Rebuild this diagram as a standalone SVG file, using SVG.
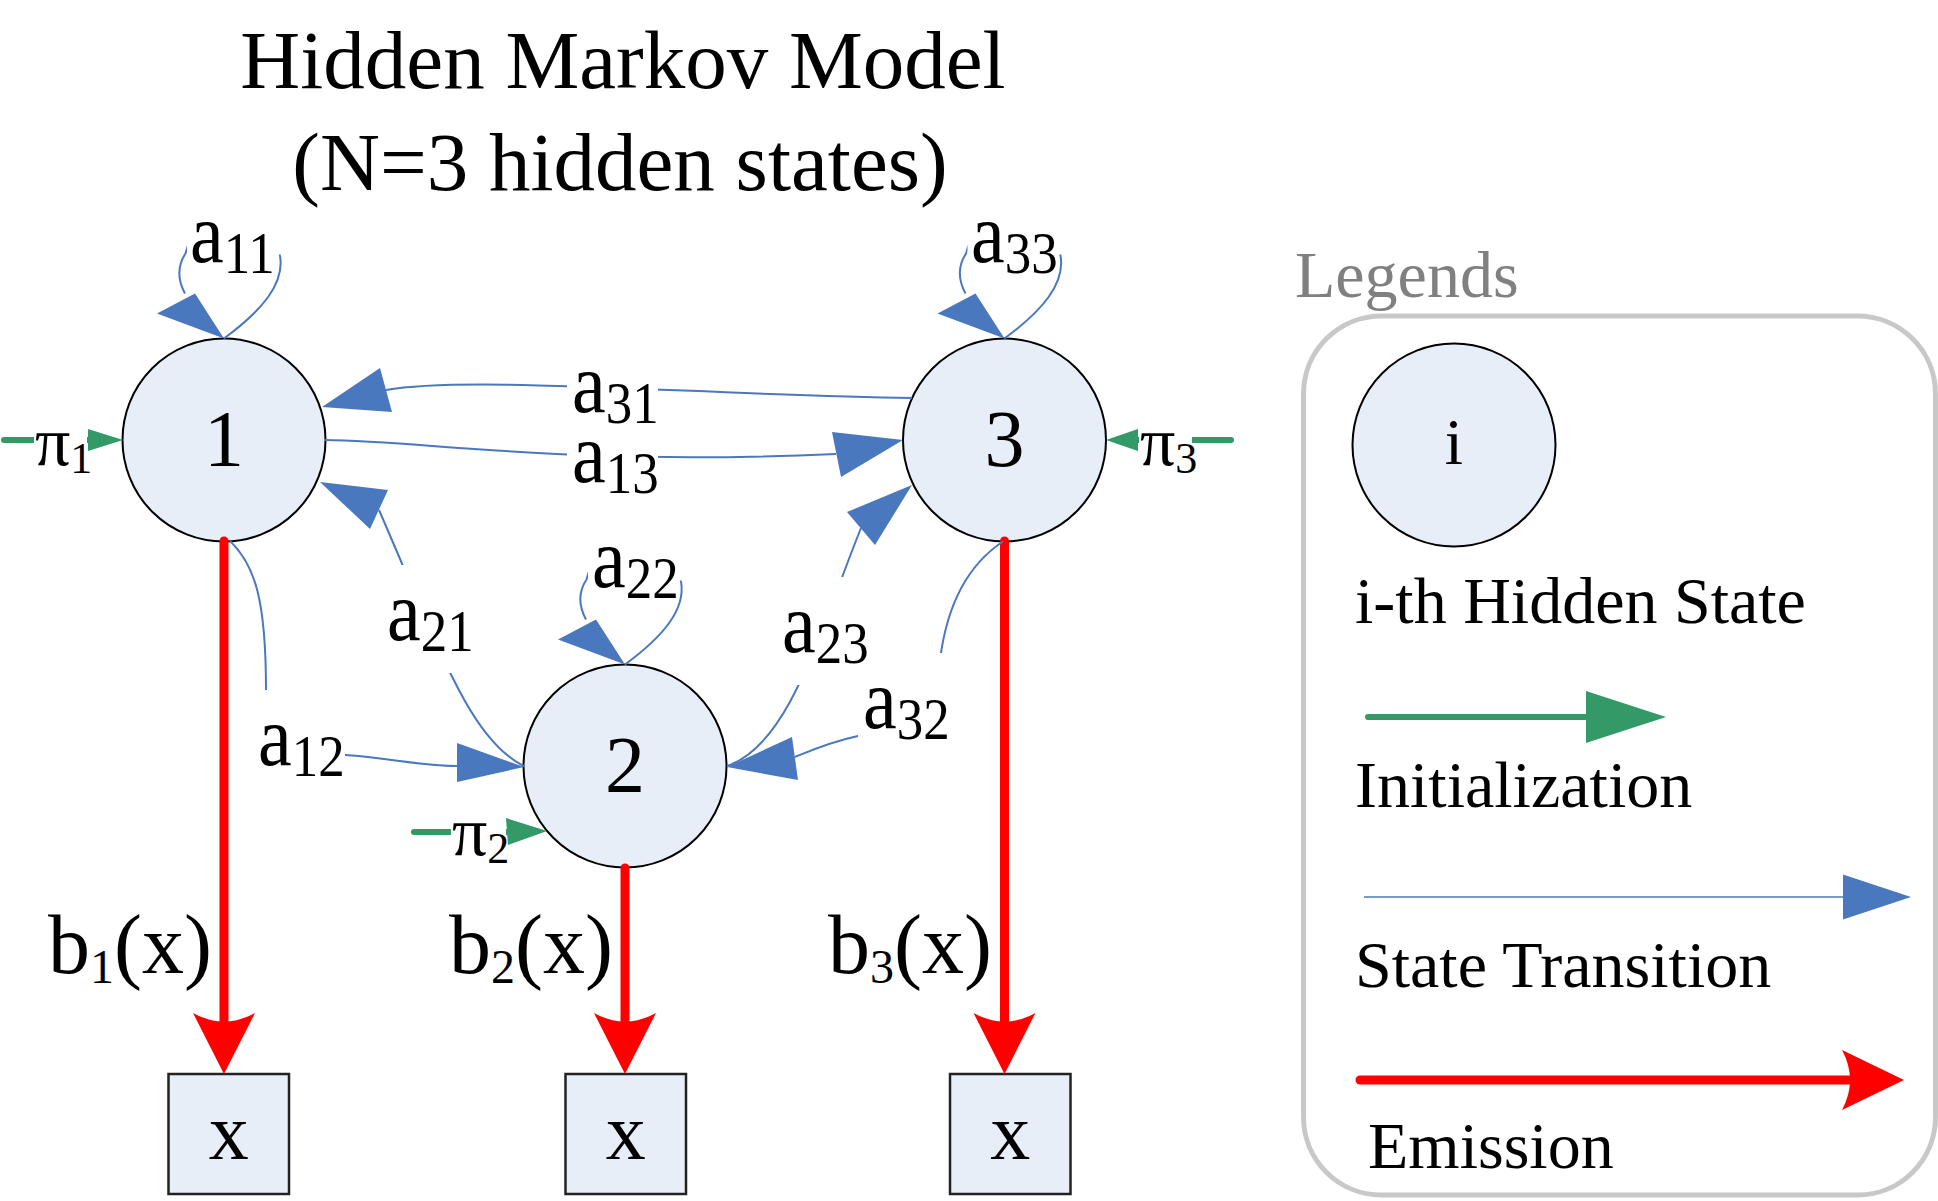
<svg xmlns="http://www.w3.org/2000/svg" xmlns:xlink="http://www.w3.org/1999/xlink" width="1938" height="1201" viewBox="0 0 1938 1201">
<style>
text{font-family:"Liberation Serif","Times New Roman",serif;fill:#000}
.title{font-size:83px;text-anchor:middle}
.node{fill:#e7eef8;stroke:#000;stroke-width:2}
.nlab{font-size:80px;text-anchor:middle}
.obs{fill:#e7eef8;stroke:#222;stroke-width:2.5}
.olab{font-size:80px;text-anchor:middle}
.tr{fill:none;stroke:#4a78bf;stroke-width:2}
.th{fill:#4a78bf}
.em{fill:none;stroke:#ff0000;stroke-width:9;stroke-linecap:round}
.eh{fill:#ff0000}
.in{fill:none;stroke:#339966;stroke-width:6;stroke-linecap:round}
.ih{fill:#339966}
.bg{fill:#fff}
.lbl{font-size:76px}
.sub{font-size:53px}
.pi{font-size:70px}
.psub{font-size:44px}
.blab{font-size:84px}
.bsub{font-size:48px}
.leg{font-size:66px}
.legtitle{font-size:66px;fill:#808080}
.legbox{fill:none;stroke:#c8c8c8;stroke-width:5}
</style>
<defs>
<path id="loop" d="M 0 0 C 38 -28, 61 -55, 56 -83 C 50 -125, -32 -125, -38.5 -85 C -47 -72, -46 -58, -39 -45"/>
<polygon id="loophead" points="0,0 -67,-25 -29,-45"/>
<rect id="loopbg" x="-37" y="-150" width="95" height="66"/>
</defs>

<g id="title">
<text class="title" x="623" y="88">Hidden Markov Model</text>
<text class="title" x="620" y="190">(N=3 hidden states)</text>
</g>

<g id="node-1"><circle class="node" cx="224" cy="440" r="101.5"/><text class="nlab" x="224" y="466">1</text></g>
<g id="node-2"><circle class="node" cx="625" cy="766" r="101.5"/><text class="nlab" x="625" y="792">2</text></g>
<g id="node-3"><circle class="node" cx="1004.5" cy="440" r="101.5"/><text class="nlab" x="1004.5" y="466">3</text></g>

<g id="obs-1"><rect class="obs" x="168.5" y="1074" width="120.5" height="120"/><text class="olab" x="228.7" y="1159">x</text></g>
<g id="obs-2"><rect class="obs" x="565.5" y="1074" width="120.5" height="120"/><text class="olab" x="625.7" y="1159">x</text></g>
<g id="obs-3"><rect class="obs" x="950" y="1074" width="120.5" height="120"/><text class="olab" x="1010.2" y="1159">x</text></g>

<g id="connectors">
<!-- emissions -->
<path class="em" d="M 224 541 V 1022"/>
<path class="em" d="M 625 868 V 1022"/>
<path class="em" d="M 1004.5 541 V 1022"/>
<path class="eh" d="M 224 1074 L 193 1013 Q 224 1030 255 1013 Z"/>
<path class="eh" d="M 625 1074 L 594 1013 Q 625 1030 656 1013 Z"/>
<path class="eh" d="M 1004.5 1074 L 973.5 1013 Q 1004.5 1030 1035.5 1013 Z"/>
<!-- initialization -->
<path class="in" d="M 4 440 H 90"/>
<path class="in" d="M 1231 440 H 1136"/>
<path class="in" d="M 414 832 H 508"/>
<!-- transitions -->
<use xlink:href="#loop" class="tr" transform="translate(224,338.5)"/>
<use xlink:href="#loop" class="tr" transform="translate(625,664.5)"/>
<use xlink:href="#loop" class="tr" transform="translate(1004.5,338.5)"/>
<path class="tr" d="M 912 398 C 700 395, 470 375, 386 390"/>
<path class="tr" d="M 325 440 C 430 441, 560 466, 836 454"/>
<path class="tr" d="M 524 766 C 470 740, 440 650, 379 510"/>
<path class="tr" d="M 230 541 C 255 565, 266 600, 266 690 C 266 740, 290 752, 345 755 C 390 758, 420 766, 457 766"/>
<path class="tr" d="M 727 766 C 790 745, 820 630, 861 528"/>
<path class="tr" d="M 1003 541.5 C 960 570, 945 620, 940 660 C 938 700, 900 728, 858 736 C 830 742, 812 750, 795 757"/>
<!-- label backgrounds -->
<use xlink:href="#loopbg" class="bg" transform="translate(224,338.5)"/>
<use xlink:href="#loopbg" class="bg" transform="translate(625,664.5)"/>
<use xlink:href="#loopbg" class="bg" transform="translate(1004.5,338.5)"/>
<rect class="bg" x="567" y="337" width="91" height="108"/>
<rect class="bg" x="567" y="407" width="91" height="108"/>
<rect class="bg" x="382" y="565" width="92" height="108"/>
<rect class="bg" x="253" y="690" width="92" height="108"/>
<rect class="bg" x="777" y="577" width="92" height="108"/>
<rect class="bg" x="858" y="653" width="92" height="108"/>
<rect class="bg" x="34" y="405" width="53" height="75"/>
<rect class="bg" x="1139" y="405" width="53" height="75"/>
<rect class="bg" x="451" y="795" width="55" height="80"/>
<!-- heads -->
<polygon class="ih" points="88,429 123,440 88,451"/>
<polygon class="ih" points="1138,429 1106,440 1138,451"/>
<polygon class="ih" points="506,818 547,831 508,845"/>
<use xlink:href="#loophead" class="th" transform="translate(224,338.5)"/>
<use xlink:href="#loophead" class="th" transform="translate(625,664.5)"/>
<use xlink:href="#loophead" class="th" transform="translate(1004.5,338.5)"/>
<polygon class="th" points="322,407 380,368 392,412"/>
<polygon class="th" points="903,440 832,432 841,477"/>
<polygon class="th" points="320,482 388,490 370,529"/>
<polygon class="th" points="524,767 457,743 457,782"/>
<polygon class="th" points="912,485 847,512 875,545"/>
<polygon class="th" points="727,767 792,737 798,780"/>
<!-- labels -->
<text class="lbl" transform="translate(190,262) scale(1,1.12)">a<tspan class="sub" dy="10">11</tspan></text>
<text class="lbl" transform="translate(592,587) scale(1,1.12)">a<tspan class="sub" dy="10">22</tspan></text>
<text class="lbl" transform="translate(971,262) scale(1,1.12)">a<tspan class="sub" dy="10">33</tspan></text>
<text class="lbl" transform="translate(572,412) scale(1,1.12)">a<tspan class="sub" dy="10">31</tspan></text>
<text class="lbl" transform="translate(572,482) scale(1,1.12)">a<tspan class="sub" dy="10">13</tspan></text>
<text class="lbl" transform="translate(387,640) scale(1,1.12)">a<tspan class="sub" dy="10">21</tspan></text>
<text class="lbl" transform="translate(258,765) scale(1,1.12)">a<tspan class="sub" dy="10">12</tspan></text>
<text class="lbl" transform="translate(782,652) scale(1,1.12)">a<tspan class="sub" dy="10">23</tspan></text>
<text class="lbl" transform="translate(863,728) scale(1,1.12)">a<tspan class="sub" dy="10">32</tspan></text>
<text class="pi" x="35" y="465">π<tspan class="psub" dy="8">1</tspan></text>
<text class="pi" x="1140" y="465">π<tspan class="psub" dy="8">3</tspan></text>
<text class="pi" x="452" y="855">π<tspan class="psub" dy="8">2</tspan></text>
<text class="blab" x="48" y="973">b<tspan class="bsub" dy="10">1</tspan><tspan dy="-10">(x)</tspan></text>
<text class="blab" x="449" y="973">b<tspan class="bsub" dy="10">2</tspan><tspan dy="-10">(x)</tspan></text>
<text class="blab" x="828" y="973">b<tspan class="bsub" dy="10">3</tspan><tspan dy="-10">(x)</tspan></text>
</g>

<g id="legend">
<text class="legtitle" x="1295" y="297">Legends</text>
<rect class="legbox" x="1303.5" y="316" width="632" height="879" rx="78"/>
<g id="legend-state"><circle class="node" cx="1454" cy="445" r="101.5"/><text class="leg" x="1454" y="464" text-anchor="middle">i</text></g>
<text class="leg" x="1355" y="623">i-th Hidden State</text>
<path class="in" d="M 1368 717 H 1588"/>
<polygon class="ih" points="1586,691 1666,717 1586,743"/>
<text class="leg" x="1355" y="807">Initialization</text>
<path class="tr" d="M 1364 897 H 1845" style="stroke-width:1.5"/>
<polygon class="th" points="1843,874.5 1911,897 1843,919.5"/>
<text class="leg" x="1355" y="987">State Transition</text>
<path class="em" d="M 1360 1080 H 1850"/>
<path class="eh" d="M 1904 1080 L 1842 1050 Q 1858 1080 1842 1110 Z"/>
<text class="leg" x="1368" y="1168">Emission</text>
</g>
</svg>
